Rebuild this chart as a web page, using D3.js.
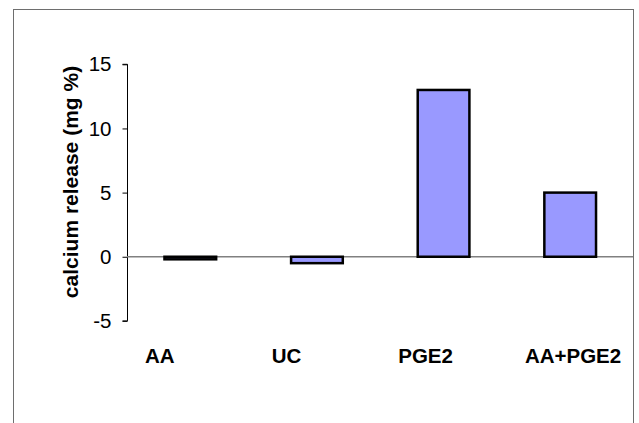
<!DOCTYPE html>
<html>
<head>
<meta charset="utf-8">
<script src="https://cdn.jsdelivr.net/npm/d3@7"></script>
<style>
  html, body { margin: 0; padding: 0; background: #fff; }
  svg { display: block; font-family: Arial, "Liberation Sans", sans-serif; }
</style>
</head>
<body>
<svg id="chart" width="639" height="423"></svg>
<script>
const categories = ["AA", "UC", "PGE2", "AA+PGE2"];
const values = [-0.2, -0.5, 13, 5];
const yTicks = [-5, 0, 5, 10, 15];
const yTitle = "calcium release (mg %)";

const svg = d3.select("#chart");

// outer frame
svg.append("rect")
  .attr("x", 13.5).attr("y", 9.5)
  .attr("width", 620).attr("height", 430)
  .attr("fill", "none").attr("stroke", "#6e6e6e").attr("stroke-width", 1);

const x = d3.scaleBand().domain(categories).range([127, 633.5]).padding(0);
const y = d3.scaleLinear().domain([-5, 15]).range([320.9, 64.3]);

const barW = x.bandwidth() / 2.45;

// y axis
const yAxis = d3.axisLeft(y).tickValues(yTicks).tickSize(5).tickPadding(11)
  .tickFormat(d => String(d));
const gy = svg.append("g").attr("transform", "translate(127.5,0)").call(yAxis);
gy.attr("font-size", null).attr("font-family", null);
gy.select(".domain").attr("stroke", "#000").attr("d", `M-5,${y(-5)}H0V${y(15)}H-5`);
gy.selectAll(".tick line").attr("stroke", "#000");
gy.selectAll(".tick text").attr("font-size", "20.5px").attr("fill", "#000");

// zero line
svg.append("line")
  .attr("x1", 127).attr("x2", 633)
  .attr("y1", y(0)).attr("y2", y(0))
  .attr("stroke", "#808080").attr("stroke-width", 1.5);

// bars
svg.selectAll("rect.bar").data(values).join("rect")
  .attr("class", "bar")
  .attr("x", (d, i) => x(categories[i]) + (x.bandwidth() - barW) / 2)
  .attr("width", barW)
  .attr("y", d => Math.min(y(d), y(0)))
  .attr("height", d => Math.abs(y(d) - y(0)))
  .attr("fill", "#9999ff")
  .attr("stroke", "#000")
  .attr("stroke-width", 2.5);

// category labels
svg.selectAll("text.cat").data(categories).join("text")
  .attr("class", "cat")
  .attr("x", d => x(d) + 18)
  .attr("y", 363)
  .attr("font-size", "20.5px")
  .attr("font-weight", "bold")
  .attr("fill", "#000")
  .text(d => d);

// y title
svg.append("text")
  .attr("transform", `translate(78,${(62 + 302) / 2}) rotate(-90)`)
  .attr("text-anchor", "middle")
  .attr("font-size", "21px")
  .attr("font-weight", "bold")
  .attr("fill", "#000")
  .text(yTitle);
</script>
</body>
</html>
